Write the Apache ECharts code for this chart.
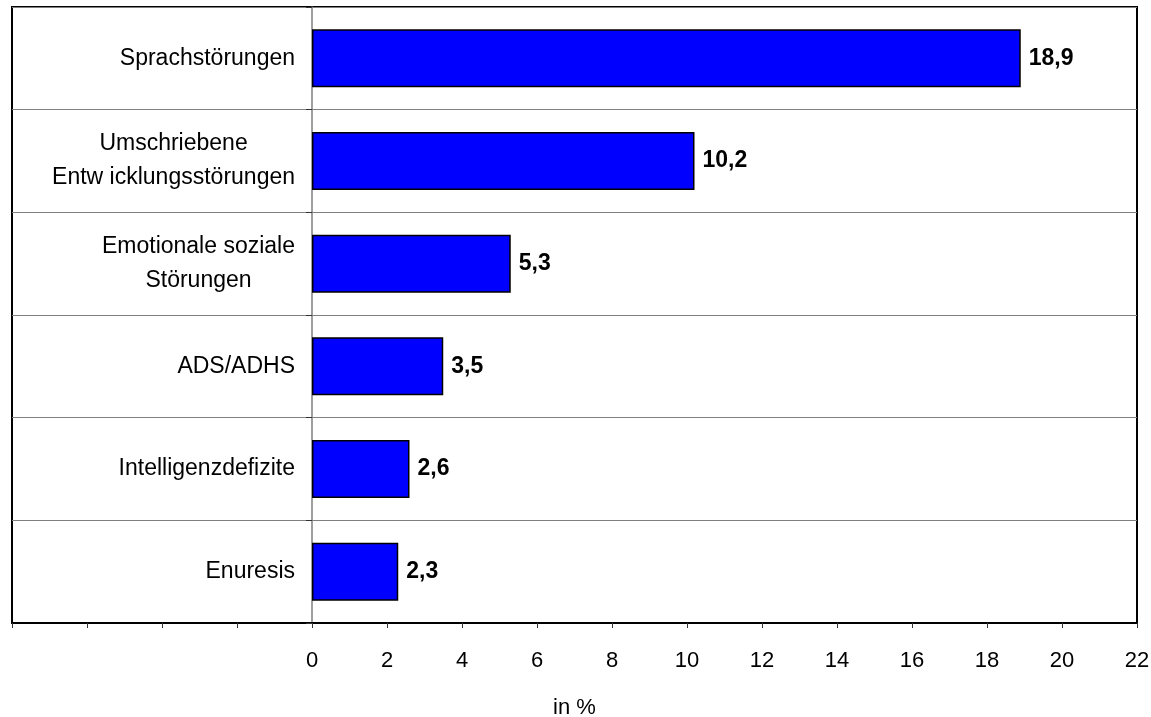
<!DOCTYPE html>
<html>
<head>
    <meta charset="utf-8"/>
    <script src="https://cdn.jsdelivr.net/npm/echarts@6/dist/echarts.min.js"></script>
</head>
<body style="margin:0;background:#fff">
<div id="main" style="width:1151px;height:717px;"></div>
<script type="text/javascript">
    // Daten aus der Abbildung
    var categories = ['Sprachstörungen', 'Umschriebene\nEntw icklungsstörungen', 'Emotionale soziale\nStörungen', 'ADS/ADHS', 'Intelligenzdefizite', 'Enuresis'];
    var values = [18.9, 10.2, 5.3, 3.5, 2.6, 2.3];
    var xMin = -8, xMax = 22, xStep = 2;

    var myChart = echarts.init(document.getElementById('main'));
    var font = '"Liberation Sans", Arial, sans-serif';

    var option = {
        animation: false,
        grid: {
            left: 12,
            right: 14,
            top: 7,
            bottom: 94,
            containLabel: false,
            outerBoundsMode: 'none',
            show: true,
            borderColor: '#000',
            borderWidth: 2
        },
        xAxis: {
            type: 'value',
            min: xMin,
            max: xMax,
            interval: xStep,
            name: 'in %',
            nameLocation: 'middle',
            nameGap: 74,
            nameTextStyle: {color: '#000', fontSize: 22, fontFamily: font},
            axisLine: {show: true, lineStyle: {color: '#000', width: 2}},
            axisTick: {show: true, length: 5, lineStyle: {color: '#333'}},
            axisLabel: {
                color: '#000',
                fontSize: 22,
                fontFamily: font,
                margin: 27,
                formatter: function (v) { return v < 0 ? '' : String(v); }
            },
            splitLine: {show: false}
        },
        yAxis: {
            type: 'category',
            inverse: true,
            data: categories,
            // Achse an die Null-Linie verschieben (-8..0 = 300px)
            offset: -300,
            axisLine: {show: true, onZero: false, lineStyle: {color: '#7f7f7f', width: 1.5}},
            axisTick: {show: true, length: 6, interval: 0, lineStyle: {color: '#333'}},
            axisLabel: {
                interval: 0,
                margin: 17,
                formatter: function (v) {
                    return v.split('\n').map(function (s) { return '{c|' + s + '}'; }).join('\n');
                },
                rich: {
                    c: {align: 'center', color: '#000', fontSize: 23, fontFamily: font, lineHeight: 34}
                }
            },
            splitLine: {show: true, interval: 0, lineStyle: {color: '#7f7f7f', width: 1.2}}
        },
        series: [{
            type: 'bar',
            data: values,
            barWidth: '56.5%',
            itemStyle: {color: '#0000ff', borderColor: '#000', borderWidth: 1.5},
            label: {
                show: true,
                position: 'right',
                distance: 8,
                color: '#000',
                fontSize: 23,
                fontWeight: 'bold',
                fontFamily: font,
                formatter: function (p) { return String(p.value.toFixed(1)).replace('.', ','); }
            }
        }]
    };

    myChart.setOption(option);
</script>
</body>
</html>
